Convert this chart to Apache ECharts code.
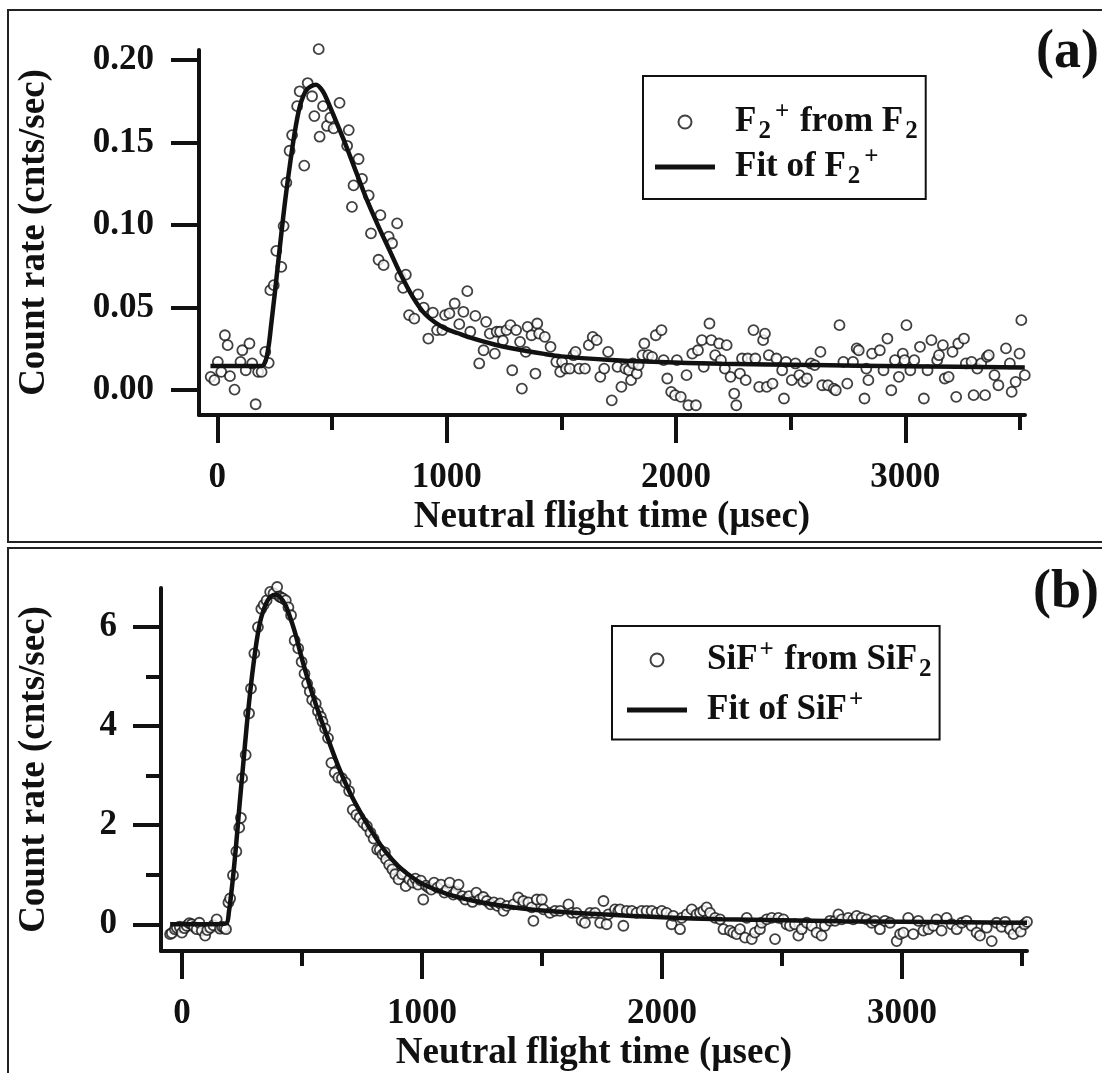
<!DOCTYPE html>
<html><head><meta charset="utf-8">
<script src="https://cdn.jsdelivr.net/npm/echarts@6/dist/echarts.min.js"></script>
<style>html,body{margin:0;padding:0;background:#fff}#chart{width:1102px;height:1073px}</style>
</head><body><div id="chart"></div>
<script>
// ---------- tick values ----------
const xMajorTicks = [0, 1000, 2000, 3000];
const xMinorTicks = [500, 1500, 2500, 3500];
const yTicksA = [0, 0.05, 0.10, 0.15, 0.20];
const yMajorTicksB = [0, 2, 4, 6];
const yMinorTicksB = [1, 3, 5];

// ---------- panel (a): F2+ from F2 ----------
const f2Data = [
[-29,0.0081],[-13,0.0061],[2,0.0172],[17,0.0111],[33,0.0333],[45,0.0273],[55,0.0085],[75,0.0004],[101,0.0172],[109,0.0242],[124,0.0121],[140,0.0283],[152,0.0162],[167,-0.0085],[178,0.0111],[193,0.0111],[209,0.0232],[224,0.0166],
[231,0.0606],[246,0.0636],[257,0.0844],[279,0.0747],[289,0.0994],[301,0.1257],[315,0.145],[326,0.1545],[348,0.172],[359,0.181],[379,0.136],[394,0.186],[413,0.178],[423,0.166],[442,0.2065],[446,0.1535],[461,0.172],[478,0.160],[493,0.165],[507,0.1585],[533,0.174],[566,0.148],[573,0.1575],[587,0.111],[594,0.124],[616,0.140],[631,0.128],[660,0.118],[670,0.095],[703,0.079],[711,0.106],[725,0.0757],[747,0.093],[762,0.089],[784,0.101],[798,0.0687],[810,0.062],[822,0.070],
[836,0.0455],[859,0.0434],[875,0.058],[900,0.050],[920,0.0313],[940,0.047],[958,0.0364],[981,0.0364],[993,0.0455],[1012,0.0465],[1035,0.0525],[1055,0.040],[1073,0.0475],[1090,0.060],[1103,0.0354],[1125,0.045],[1142,0.0162],[1161,0.0242],[1172,0.0414],[1188,0.0343],[1210,0.0222],[1218,0.0354],[1233,0.0354],[1245,0.030],
[1261,0.0364],[1278,0.0394],[1286,0.0121],[1303,0.0364],[1320,0.0293],[1328,0.001],[1345,0.0232],[1353,0.0384],[1370,0.0333],[1387,0.0101],[1395,0.0404],[1403,0.0343],[1428,0.0323],[1453,0.0263],[1478,0.0172],[1495,0.0111],[1503,0.0172],[1520,0.0131],[1537,0.0131],[1553,0.0212],[1562,0.0232],[1578,0.0131],[1603,0.0131],[1620,0.0273],[1637,0.0323],[1654,0.0303],[1670,0.0081],[1687,0.0131],[1704,0.0232],[1720,-0.0061],[1745,0.0141],[1762,0.002],[1779,0.0131],[1795,0.0121],[1804,0.0061],[1812,0.0162],[1829,0.0101],[1837,0.0152],[1854,0.0212],[1862,0.0283],[1879,0.0212],[1896,0.0202],[1912,0.0333],[1937,0.0364],[1946,0.0182],[1962,0.0071],[1979,-0.001],[1996,-0.003],[2004,0.0182],[2021,-0.004],[2046,0.0091],[2054,-0.0091],[2071,0.0222],[2087,-0.0091],[2096,0.0242],[2113,0.0303],[2121,0.0141],[2146,0.0404],[2154,0.0303],[2171,0.0212],[2188,0.0283],[2196,0.0182],[2213,0.0131],[2221,0.0273],[2238,0.0081],[2254,-0.002],[2263,-0.0091],[2279,0.0101],[2288,0.0192],[2304,0.0061],[2313,0.0192],[2338,0.0364],[2346,0.0192],[2363,0.002],[2380,0.0303],[2388,0.0343],[2396,0.002],[2405,0.0212],[2421,0.004],[2438,0.0192],[2463,0.0121],[2471,-0.005],[2480,0.0172],[2505,0.0061],[2521,0.0162],[2538,0.0091],[2555,0.0051],[2571,0.0071],[2588,0.0162],[2605,0.0152],[2630,0.0232],[2638,0.003],[2663,0.003],[2688,0.001],[2697,0.0],[2713,0.0394],[2730,0.0172],[2747,0.004],[2772,0.0172],[2788,0.0253],[2797,0.0242],[2822,-0.005],[2830,0.0131],[2839,0.0061],[2855,0.0222],[2889,0.0242],[2905,0.0121],[2922,0.0313],[2939,0.0],[2955,0.0182],[2972,0.0081],[2989,0.0222],[2997,0.0182],[3005,0.0394],[3022,0.0121],[3039,0.0182],[3064,0.0263],[3081,-0.005],[3097,0.0121],[3114,0.0303],[3139,0.0182],[3147,0.0212],[3164,0.0273],[3172,0.0071],[3189,0.0081],[3206,0.0232],[3222,-0.004],[3231,0.0283],[3256,0.0313],[3264,0.0162],[3289,0.0172],[3298,-0.003],[3314,0.0131],[3331,0.0162],[3348,-0.003],[3356,0.0202],[3364,0.0212],[3389,0.0091],[3406,0.003],[3439,0.0253],[3456,0.0162],[3464,-0.001],[3481,0.0051],[3498,0.0222],[3506,0.0424],[3521,0.0091]
];
const f2Fit = [
[-30,0.0147],[100,0.0147],[195,0.0147],[205,0.016],[215,0.02],[225,0.028],[235,0.04],[250,0.058],[265,0.077],[280,0.096],[295,0.114],[310,0.13],[335,0.154],[360,0.172],[390,0.182],[430,0.185],[460,0.181],[490,0.172],[520,0.162],[550,0.152],[600,0.134],[650,0.116],[700,0.1],[750,0.085],[800,0.07],[850,0.057],[900,0.047],[950,0.041],[1000,0.037],[1050,0.0345],[1100,0.032],[1200,0.028],[1300,0.025],[1425,0.022],[1500,0.0205],[1700,0.0185],[1900,0.0172],[2200,0.016],[2600,0.0152],[3000,0.0145],[3521,0.0137]
];

// ---------- panel (b): SiF+ from SiF2 ----------
const sifData = [
[-50,-0.2],[-43,-0.18],[-30,-0.1],[-22,-0.07],[-10,-0.05],[-1,-0.17],[10,-0.08],[19,-0.03],[30,0.02],[40,0.0],[50,-0.05],[61,-0.1],[72,0.03],[82,-0.13],[96,-0.23],[105,-0.12],[117,-0.07],[130,-0.02],[144,0.1],[158,-0.09],[166,-0.05],[175,-0.07],[183,-0.1],
[193,0.44],[200,0.52],[212,0.99],[226,1.47],[238,1.95],[245,2.15],[250,2.95],[265,3.42],[279,4.26],[287,4.76],[301,5.47],[316,6.0],[330,6.37],[340,6.45],[352,6.54],[367,6.71],[381,6.68],[396,6.81],[405,6.62],[411,6.6],[420,6.58],[432,6.54],[443,6.4],[454,6.24],[469,5.73],[484,5.57],[498,5.30],[510,5.06],[521,4.86],[532,4.7],[542,4.53],[557,4.46],[566,4.3],[578,4.19],[585,4.09],[596,3.95],[608,3.76],[622,3.26],[636,3.06],[651,2.96],[666,2.95],[681,2.86],[696,2.69],
[711,2.31],[726,2.21],[740,2.15],[755,2.05],[770,1.98],[785,1.85],[798,1.73],[813,1.51],[824,1.5],[835,1.41],[845,1.45],[850,1.31],[863,1.2],[876,1.11],[888,1.01],[902,0.905],[917,1.01],[932,0.77],[947,0.905],[961,0.84],[972,0.92],[983,0.80],[995,0.88],[1005,0.50],[1016,0.78],[1027,0.74],[1038,0.7],[1050,0.84],[1064,0.74],[1079,0.80],[1093,0.64],[1104,0.7],[1115,0.84],[1130,0.6],[1141,0.66],[1152,0.80],[1167,0.57],[1180,0.5],[1196,0.57],[1210,0.45],[1226,0.64],[1240,0.50],[1255,0.55],[1270,0.47],[1285,0.4],[1299,0.44],[1314,0.37],[1326,0.42],
[1339,0.27],[1353,0.37],[1381,0.40],[1401,0.54],[1422,0.47],[1443,0.44],[1457,0.34],[1464,0.07],[1478,0.50],[1499,0.50],[1506,0.30],[1533,0.23],[1554,0.27],[1575,0.27],[1610,0.40],[1624,0.23],[1644,0.23],[1665,0.07],[1679,0.03],[1700,0.23],[1721,0.23],[1742,0.03],[1756,0.47],[1769,0.0],[1776,0.20],[1804,0.30],[1818,0.27],[1825,0.30],[1839,-0.03],[1853,0.27],[1874,0.27],[1894,0.23],[1915,0.27],[1936,0.27],[1957,0.27],[1978,0.23],[1999,0.27],[2019,0.23],[2040,0.0],[2047,0.17],[2075,-0.10],[2082,0.13],[2103,0.20],[2124,0.30],[2144,0.20],[2158,0.23],[2172,0.27],[2186,0.34],[2200,0.23],[2221,0.13],[2242,0.10],[2256,-0.10],[2283,-0.13],[2297,-0.17],[2311,-0.20],[2325,-0.10],[2346,-0.27],[2353,0.13],[2374,-0.30],[2387,-0.17],[2408,-0.10],[2415,0.03],[2436,0.10],[2457,0.13],[2471,-0.30],[2485,0.13],[2506,0.10],[2519,0.0],[2533,-0.03],[2554,0.0],[2568,-0.23],[2582,-0.10],[2603,0.03],[2624,-0.03],[2644,-0.17],[2665,-0.23],[2679,-0.03],[2700,0.07],[2721,0.07],[2735,0.20],[2749,0.10],[2776,0.13],[2797,0.10],[2811,0.17],[2832,0.13],[2853,0.10],[2874,0.03],[2887,0.07],[2908,-0.10],[2929,0.07],[2950,0.03],[2978,-0.34],[2992,-0.20],[3006,-0.17],[3026,0.13],[3047,-0.20],[3068,0.07],[3089,-0.13],[3110,-0.10],[3131,-0.03],[3144,0.10],[3165,-0.13],[3186,0.13],[3207,0.0],[3228,-0.10],[3249,0.03],[3269,0.07],[3290,-0.03],[3311,-0.17],[3325,-0.23],[3353,-0.07],[3374,-0.34],[3394,0.03],[3415,-0.05],[3430,0.05],[3450,-0.1],[3465,-0.2],[3480,-0.05],[3495,-0.15],[3510,0.0],[3521,0.05]
];
const sifFit = [
[-50,0.0],[150,0.0],[185,0.02],[195,0.25],[210,0.85],[225,1.6],[240,2.45],[255,3.25],[270,4.05],[285,4.75],[300,5.35],[315,5.85],[330,6.2],[350,6.48],[370,6.62],[390,6.66],[410,6.6],[430,6.45],[450,6.2],[470,5.9],[500,5.35],[530,4.85],[560,4.4],[600,3.85],[650,3.2],[700,2.65],[750,2.2],[800,1.8],[850,1.45],[900,1.18],[950,0.98],[1000,0.82],[1100,0.62],[1200,0.49],[1300,0.4],[1400,0.33],[1500,0.28],[1750,0.2],[2000,0.14],[2250,0.1],[2500,0.08],[2750,0.06],[3000,0.05],[3250,0.04],[3521,0.03]
];

// ---------- styling ----------
const INK = '#111';
const FONT = '"Liberation Serif", "Times New Roman", serif';
const tickLabelStyle = {fontFamily: FONT, fontWeight: 'bold', fontSize: 35, color: INK};
const nameStyle = {fontFamily: FONT, fontWeight: 'bold', fontSize: 37, color: INK};

const legendText = {
  'F2+ from F2': '{b0|F}{sub|2}{sup|+}{b| from F}{sub|2}',
  'Fit of F2+': '{b0|Fit of F}{sub|2}{sup|+}',
  'SiF+ from SiF2': '{b0|SiF}{sup|+}{b| from SiF}{sub|2}',
  'Fit of SiF+': '{b0|Fit of SiF}{sup|+}'
};
const richStyles = {
  b0: {fontFamily: FONT, fontWeight: 'bold', fontSize: 35, color: INK, lineHeight: 44, padding: [0, 0, 0, 15]},
  b: {fontFamily: FONT, fontWeight: 'bold', fontSize: 35, color: INK, lineHeight: 44},
  sub: {fontFamily: FONT, fontWeight: 'bold', fontSize: 25, color: INK, lineHeight: 24, verticalAlign: 'bottom', padding: [0, 2, 0, 2]},
  sup: {fontFamily: FONT, fontWeight: 'bold', fontSize: 25, color: INK, lineHeight: 24, verticalAlign: 'top', padding: [0, 2, 0, 2]}
};
const lineIcon = 'path://M0,0H60V5H0Z';

function majorX(gridIndex, min, max) {
  return {
    type: 'value', gridIndex, min, max, position: 'bottom',
    name: 'Neutral flight time (\u00B5sec)', nameLocation: 'middle', nameGap: 84, nameTextStyle: nameStyle,
    axisLine: {show: true, onZero: false, lineStyle: {color: INK, width: 4}},
    axisTick: {show: true, customValues: xMajorTicks, length: 28, lineStyle: {color: INK, width: 4}},
    axisLabel: {show: true, customValues: xMajorTicks, margin: 45, formatter: v => String(v), ...tickLabelStyle},
    splitLine: {show: false}
  };
}
function minorX(gridIndex, min, max) {
  return {
    type: 'value', gridIndex, min, max, position: 'bottom',
    axisLine: {show: false, onZero: false},
    axisTick: {show: true, customValues: xMinorTicks, length: 15, lineStyle: {color: INK, width: 4}},
    axisLabel: {show: false},
    splitLine: {show: false}
  };
}

const option = {
  backgroundColor: '#fff',
  animation: false,
  grid: [
    {left: 199, top: 50, width: 826, height: 365},
    {left: 161, top: 588, width: 866, height: 364}
  ],
  xAxis: [
    majorX(0, -80, 3522),
    minorX(0, -80, 3522),
    majorX(1, -88, 3521),
    minorX(1, -88, 3521)
  ],
  yAxis: [
    {
      type: 'value', gridIndex: 0, min: -0.015, max: 0.206, position: 'left',
      name: 'Count rate (cnts/sec)', nameLocation: 'middle', nameGap: 146, nameRotate: 90, nameTextStyle: nameStyle,
      axisLine: {show: true, onZero: false, lineStyle: {color: INK, width: 4}},
      axisTick: {show: true, customValues: yTicksA, length: 28, lineStyle: {color: INK, width: 4}},
      axisLabel: {show: true, customValues: yTicksA, margin: 45, formatter: v => v.toFixed(2), ...tickLabelStyle},
      splitLine: {show: false}
    },
    {
      type: 'value', gridIndex: 1, min: -0.54, max: 6.79, position: 'left',
      name: 'Count rate (cnts/sec)', nameLocation: 'middle', nameGap: 108, nameRotate: 90, nameTextStyle: nameStyle,
      axisLine: {show: true, onZero: false, lineStyle: {color: INK, width: 4}},
      axisTick: {show: true, customValues: yMajorTicksB, length: 28, lineStyle: {color: INK, width: 4}},
      axisLabel: {show: true, customValues: yMajorTicksB, margin: 44, formatter: v => String(v), ...tickLabelStyle},
      splitLine: {show: false}
    },
    {
      type: 'value', gridIndex: 1, min: -0.54, max: 6.79, position: 'left',
      axisLine: {show: false, onZero: false},
      axisTick: {show: true, customValues: yMinorTicksB, length: 15, lineStyle: {color: INK, width: 4}},
      axisLabel: {show: false},
      splitLine: {show: false}
    }
  ],
  legend: [
    {
      left: 643, top: 76, orient: 'vertical', selectedMode: false,
      data: [{name: 'F2+ from F2', icon: 'circle'}, {name: 'Fit of F2+', icon: lineIcon}],
      itemWidth: 60, itemHeight: 13, itemGap: 1,
      padding: [24, 6, 10, 12],
      borderColor: INK, borderWidth: 2, backgroundColor: '#fff',
      formatter: n => legendText[n],
      textStyle: {fontFamily: FONT, fontWeight: 'bold', fontSize: 35, color: INK, rich: richStyles}
    },
    {
      left: 612, top: 626, orient: 'vertical', selectedMode: false,
      data: [{name: 'SiF+ from SiF2', icon: 'circle'}, {name: 'Fit of SiF+', icon: lineIcon}],
      itemWidth: 60, itemHeight: 13, itemGap: 6,
      padding: [12, 6, 12, 15],
      borderColor: INK, borderWidth: 2, backgroundColor: '#fff',
      formatter: n => legendText[n],
      textStyle: {fontFamily: FONT, fontWeight: 'bold', fontSize: 35, color: INK, rich: richStyles}
    }
  ],
  series: [
    {
      name: 'F2+ from F2', type: 'scatter', xAxisIndex: 0, yAxisIndex: 0, data: f2Data,
      symbol: 'circle', symbolSize: 10, clip: false, z: 2,
      itemStyle: {color: '#fff', borderColor: INK, borderWidth: 1.8},
      emphasis: {disabled: true}
    },
    {
      name: 'Fit of F2+', type: 'line', xAxisIndex: 0, yAxisIndex: 0, data: f2Fit,
      showSymbol: false, symbol: 'none', smooth: 0.3, clip: false, z: 3, color: INK,
      itemStyle: {color: INK},
      lineStyle: {color: INK, width: 4.5},
      emphasis: {disabled: true}
    },
    {
      name: 'SiF+ from SiF2', type: 'scatter', xAxisIndex: 2, yAxisIndex: 1, data: sifData,
      symbol: 'circle', symbolSize: 10, clip: false, z: 2,
      itemStyle: {color: '#fff', borderColor: INK, borderWidth: 1.8},
      emphasis: {disabled: true}
    },
    {
      name: 'Fit of SiF+', type: 'line', xAxisIndex: 2, yAxisIndex: 1, data: sifFit,
      showSymbol: false, symbol: 'none', smooth: 0.3, clip: false, z: 3, color: INK,
      itemStyle: {color: INK},
      lineStyle: {color: INK, width: 4.5},
      emphasis: {disabled: true}
    }
  ],
  graphic: [
    {type: 'rect', silent: true, z: 0, shape: {x: 8, y: 10, width: 1110, height: 532}, style: {fill: 'none', stroke: '#222', lineWidth: 2}},
    {type: 'rect', silent: true, z: 0, shape: {x: 8, y: 548, width: 1110, height: 540}, style: {fill: 'none', stroke: '#222', lineWidth: 2}},
    {type: 'text', silent: true, right: 3, top: 26, style: {text: '(a)', font: 'bold 54px "Liberation Serif"', fill: INK}},
    {type: 'text', silent: true, right: 3, top: 566, style: {text: '(b)', font: 'bold 54px "Liberation Serif"', fill: INK}}
  ]
};

const chart = echarts.init(document.getElementById('chart'), null, {renderer: 'canvas'});
chart.setOption(option);
</script>
</body></html>
